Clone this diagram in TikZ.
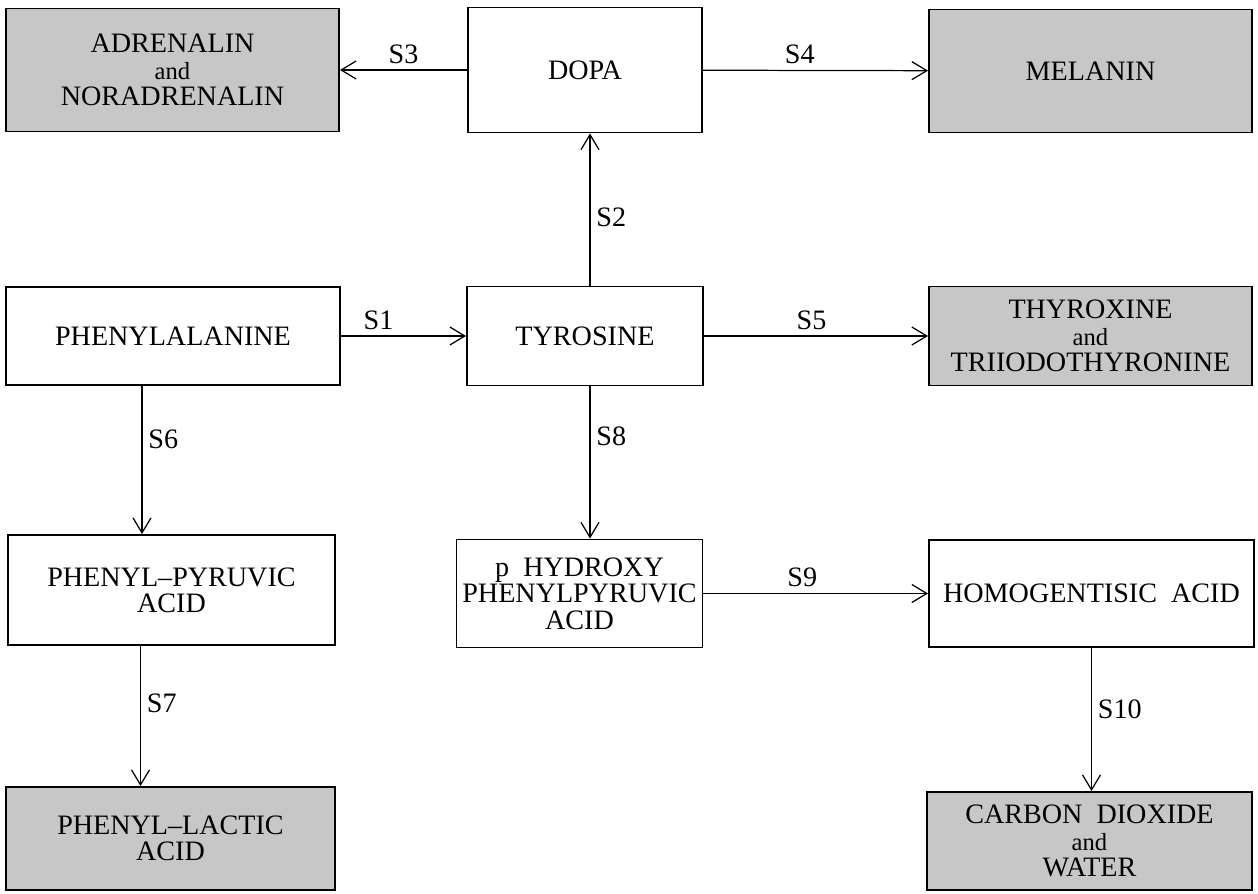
\documentclass[tikz,border=0pt]{standalone}
\usepackage{fontspec}
\setmainfont{Liberation Serif}
\usepackage{tikz}
\usetikzlibrary{arrows.meta}
\tikzset{
box/.style = {rectangle, draw=black, line width=1.1pt, align=center, minimum width = #1},
box/.default = 4.7cm, % width of the plain boxes
grey/.style = {box=#1, fill=black!22},
grey/.default = 6.5cm,
flow/.style = {->, line width=0.7pt},
>={Straight Barb[length=3mm,width=3.6mm]},
}
\newcommand{\andword}{{\fontsize{14}{15}\selectfont and}}

\begin{document}
\begin{tikzpicture}[font=\fontsize{16}{15}\selectfont]

    \useasboundingbox (0,0) rectangle (25.16,-17.86);

    \node[grey=6.66cm, minimum height=2.46cm] (procAdr) at (3.45,-1.40) {ADRENALIN\\\andword\\NORADRENALIN};
    \node[box=4.68cm, minimum height=2.50cm] (procDopa) at (11.70,-1.40) {DOPA};
    \node[grey=6.46cm, minimum height=2.46cm] (procMel) at (21.81,-1.42) {MELANIN};

    \node[box=6.68cm, minimum height=1.96cm] (procPhe) at (3.46,-6.72) {PHENYLALANINE};
    \node[box=4.72cm, minimum height=1.98cm] (procTyr) at (11.70,-6.72) {TYROSINE};
    \node[grey=6.46cm, minimum height=1.98cm] (procThy) at (21.81,-6.72) {THYROXINE\\\andword\\TRIIODOTHYRONINE};

    \node[box=6.54cm, minimum height=2.20cm] (procPpa) at (3.43,-11.80) {PHENYL–PYRUVIC\\ACID};
    \node[box=4.70cm, minimum height=2.16cm] (procHpp) at (11.59,-11.87) {p\ \ HYDROXY\\PHENYLPYRUVIC\\ACID};
    \node[box=6.50cm, minimum height=2.14cm] (procHga) at (21.83,-11.87) {HOMOGENTISIC\ \ ACID};

    \node[grey=6.58cm, minimum height=2.06cm] (procPla) at (3.41,-16.77) {PHENYL–LACTIC\\ACID};
    \node[grey=6.50cm, minimum height=1.96cm] (procCo) at (21.79,-16.82) {CARBON\ \ DIOXIDE\\\andword\\WATER};

\draw[flow] (procDopa) edge node[above] {S3} (procAdr);
\draw[flow] (procDopa) edge node[above, pos=0.43] {S4} (procMel);
\draw[flow] (procPhe) edge node[above, pos=0.3] {S1} (procTyr);
\draw[flow] (procTyr) edge node[above, pos=0.48] {S5} (procThy);
\draw[flow] (procHpp) edge node[above, pos=0.44] {S9} (procHga);

\draw[flow] ([xshift=1mm]procTyr.north) -- node[right, pos=0.45] {S2} ([xshift=1mm]procTyr.north |- procDopa.south);
\draw[flow] ([xshift=-6.2mm]procPhe.south) -- node[right, pos=0.36] {S6} ([xshift=-6.2mm]procPhe.south |- procPpa.north);
\draw[flow] ([xshift=1mm]procTyr.south) -- node[right, pos=0.33] {S8} ([xshift=1mm]procTyr.south |- procHpp.north);
\draw[flow] ([xshift=-6.2mm]procPpa.south) -- node[right, pos=0.41] {S7} ([xshift=-6.2mm]procPpa.south |- procPla.north);
\draw[flow] (procHga.south) -- node[right, pos=0.43] {S10} (procHga.south |- procCo.north);

\end{tikzpicture}
\end{document}
